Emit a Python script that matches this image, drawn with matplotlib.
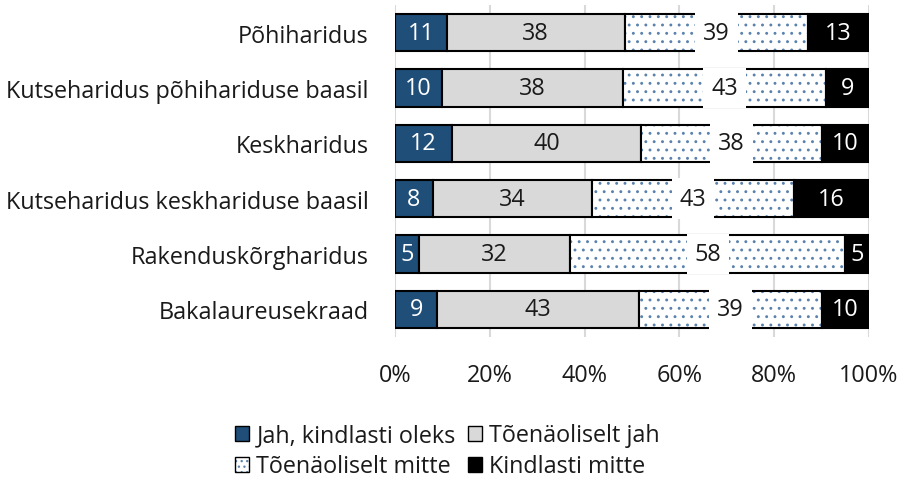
import numpy as np
import matplotlib.pyplot as plt
from matplotlib.patches import Patch
from matplotlib.legend_handler import HandlerTuple

plt.rcParams['font.family'] = ['Open Sans', 'DejaVu Sans']
plt.rcParams['hatch.linewidth'] = 0.9

categories = ['Põhiharidus', 'Kutseharidus põhihariduse baasil', 'Keskharidus',
              'Kutseharidus keskhariduse baasil', 'Rakenduskõrgharidus', 'Bakalaureusekraad']
series_names = ['Jah, kindlasti oleks', 'Tõenäoliselt jah', 'Tõenäoliselt mitte', 'Kindlasti mitte']
jah_kindlasti = [11, 10, 12, 8, 5, 9]
tõen_jah = [38, 38, 40, 34, 32, 43]
tõen_mitte = [39, 43, 38, 43, 58, 39]
kindlasti_mitte = [13, 9, 10, 16, 5, 10]
x_ticks = [0, 20, 40, 60, 80, 100]

blue = '#1F4E79'
gray = '#D9D9D9'
dot = '#5a82ad'
txt = '#1a1a1a'
fs = 16.8

data = np.array([jah_kindlasti, tõen_jah, tõen_mitte, kindlasti_mitte], dtype=float)
pct = data / data.sum(axis=0) * 100

fig = plt.figure(figsize=(9.15, 4.89), dpi=100)
ax = fig.add_axes([395/915, 1-338/489, 474/915, 332/489])

y = np.arange(len(categories))
h = 0.67
gap_w = 9  # width of the white label gap in the dotted series
left = np.zeros(len(categories))
for i in range(4):
    w = pct[i]
    if i == 0:
        ax.barh(y, w, h, left=left, color=blue, edgecolor='black', linewidth=1.5, zorder=2)
    elif i == 1:
        ax.barh(y, w, h, left=left, color=gray, edgecolor='black', linewidth=1.5, zorder=2)
    elif i == 2:
        ax.barh(y, w, h, left=left, color='white', edgecolor=dot, hatch='..', linewidth=0, zorder=2)
        ax.barh(y, w, h, left=left, fill=False, edgecolor='black', linewidth=1.5, zorder=3)
        ax.barh(y, gap_w, h + 0.06, left=left + w / 2 - gap_w / 2, color='white', linewidth=0, zorder=4)
    else:
        ax.barh(y, w, h, left=left, color='black', edgecolor='black', linewidth=1.5, zorder=2)
    for j in range(len(categories)):
        cx = left[j] + w[j] / 2
        lab = str(int(data[i, j]))
        c = txt if i in (1, 2) else 'white'
        ax.text(cx, y[j], lab, ha='center', va='center', fontsize=fs, color=c, zorder=5)
    left = left + w

ax.set_xlim(0, 100)
ax.set_ylim(len(categories) - 0.5, -0.5)
ax.set_yticks(y)
ax.set_yticklabels(categories, fontsize=fs, color=txt)
ax.set_xticks(x_ticks)
ax.set_xticklabels([f'{t}%' for t in x_ticks], fontsize=fs, color=txt)
ax.tick_params(axis='both', length=0)
ax.tick_params(axis='y', pad=19)
ax.tick_params(axis='x', pad=19)
ax.grid(axis='x', color='#D9D9D9', linewidth=1.5, zorder=0)
ax.set_axisbelow(True)
for s in ax.spines.values():
    s.set_visible(False)

dotted_handle = (Patch(facecolor='white', edgecolor=dot, hatch='...', linewidth=0),
                 Patch(fill=False, edgecolor='black', linewidth=1))
handles = [Patch(facecolor=blue, edgecolor='black', linewidth=1),
           dotted_handle,
           Patch(facecolor=gray, edgecolor='black', linewidth=1),
           Patch(facecolor='black', edgecolor='black', linewidth=1)]
labels = [series_names[0], series_names[2], series_names[1], series_names[3]]
fig.legend(handles, labels, ncol=2, loc='upper left', bbox_to_anchor=(219/915, 1-408/489),
           frameon=False, fontsize=fs, handlelength=0.6, handleheight=0.6, handletextpad=0.3,
           columnspacing=0.55, labelspacing=0.3, labelcolor=txt, borderpad=0.2,
           handler_map={tuple: HandlerTuple(ndivide=1, pad=0)})

fig.savefig('out.png', dpi=100)
